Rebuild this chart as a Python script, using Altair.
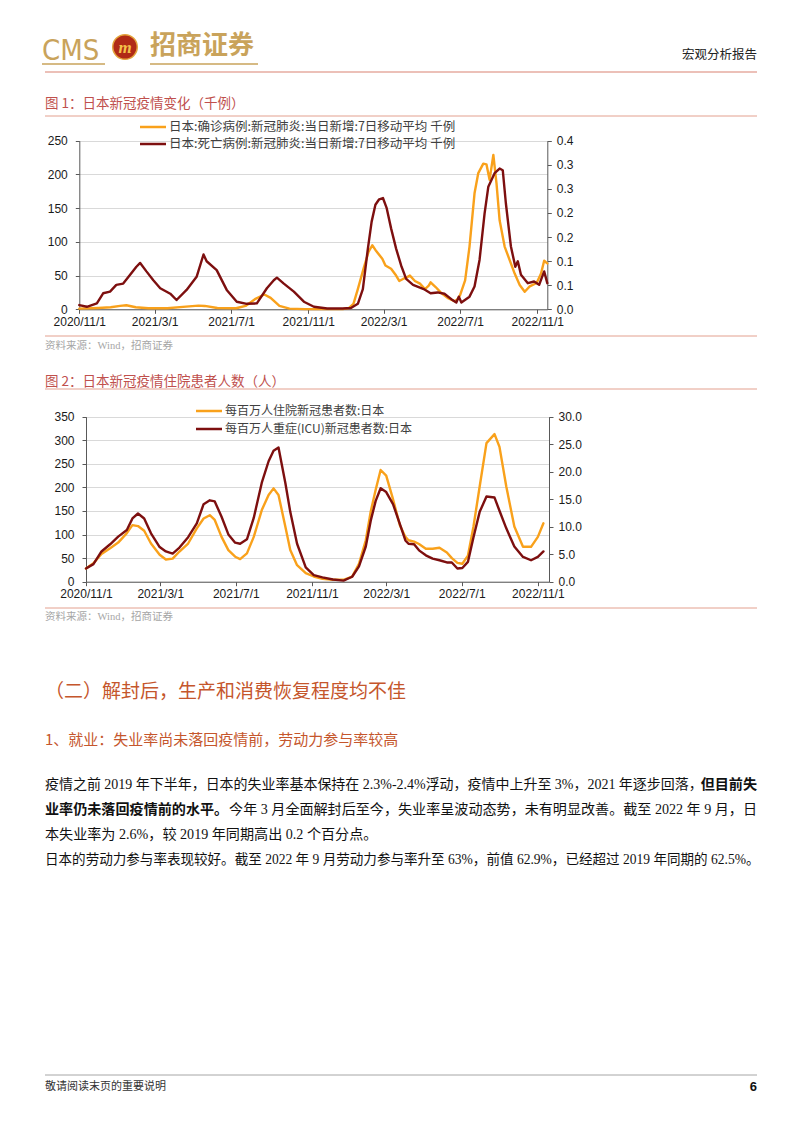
import altair as alt
import pandas as pd

# ---------------- data ----------------
c1_x_ticks = ["2020-11-01", "2021-03-01", "2021-07-01", "2021-11-01", "2022-03-01", "2022-07-01", "2022-11-01"]

conf_dates = ["2020-11-01", "2020-12-01", "2020-12-21", "2021-01-05", "2021-01-15", "2021-01-30", "2021-02-19",
              "2021-03-21", "2021-04-20", "2021-05-10", "2021-05-20", "2021-06-09", "2021-07-09", "2021-07-24",
              "2021-08-08", "2021-08-23", "2021-09-02", "2021-09-16", "2021-10-02", "2021-10-27", "2021-12-26",
              "2022-01-05", "2022-01-12", "2022-01-19", "2022-01-28", "2022-02-05", "2022-02-11", "2022-02-16",
              "2022-02-21", "2022-02-27", "2022-03-04", "2022-03-13", "2022-03-21", "2022-03-26", "2022-04-01",
              "2022-04-06", "2022-04-12", "2022-04-20", "2022-04-28", "2022-05-06", "2022-05-12", "2022-05-15",
              "2022-05-23", "2022-05-31", "2022-06-11", "2022-06-22", "2022-06-27", "2022-07-01", "2022-07-09",
              "2022-07-16", "2022-07-24", "2022-07-30", "2022-08-07", "2022-08-12", "2022-08-17", "2022-08-23",
              "2022-08-28", "2022-09-02", "2022-09-10", "2022-09-18", "2022-09-26", "2022-10-04", "2022-10-12",
              "2022-10-20", "2022-10-31", "2022-11-07", "2022-11-12", "2022-11-17"]
conf_vals = [1, 2, 3, 5, 6, 3, 1.5, 1.5, 4, 5.5,
             5, 2, 1.5, 5, 15, 22, 17, 5, 1, 0.3,
             0.3, 2, 8, 30, 60, 85, 95, 88, 82, 75,
             65, 60, 50, 42, 45, 47, 50, 42, 38, 30,
             35, 40, 33, 25, 17, 12, 15, 21, 43, 93,
             172, 202, 216, 215, 192, 229, 187, 132, 93, 73,
             53, 36, 26, 34, 39, 53, 72, 68]

death_dates = ["2020-11-01", "2020-11-13", "2020-11-29", "2020-12-09", "2020-12-20", "2020-12-30", "2021-01-10",
               "2021-01-21", "2021-01-31", "2021-02-06", "2021-02-16", "2021-02-27", "2021-03-10", "2021-03-26",
               "2021-04-05", "2021-04-21", "2021-05-07", "2021-05-18", "2021-05-23", "2021-06-08", "2021-06-24",
               "2021-07-10", "2021-07-26", "2021-08-11", "2021-08-27", "2021-09-07", "2021-09-12", "2021-09-23",
               "2021-10-09", "2021-10-25", "2021-11-10", "2021-12-01", "2021-12-26", "2022-01-08", "2022-01-19",
               "2022-01-27", "2022-02-04", "2022-02-10", "2022-02-16", "2022-02-22", "2022-02-28", "2022-03-06",
               "2022-03-13", "2022-03-21", "2022-03-29", "2022-04-06", "2022-04-17", "2022-05-04", "2022-05-15",
               "2022-05-26", "2022-06-06", "2022-06-17", "2022-06-25", "2022-06-29", "2022-07-03", "2022-07-16",
               "2022-07-24", "2022-08-01", "2022-08-09", "2022-08-15", "2022-08-25", "2022-09-02", "2022-09-07",
               "2022-09-12", "2022-09-20", "2022-09-27", "2022-10-01", "2022-10-06", "2022-10-17", "2022-10-27",
               "2022-11-04", "2022-11-12", "2022-11-17"]
death_vals = [0.010, 0.006, 0.014, 0.038, 0.042, 0.058, 0.061, 0.082, 0.101, 0.110,
              0.090, 0.069, 0.050, 0.037, 0.022, 0.046, 0.077, 0.130, 0.114, 0.093,
              0.046, 0.018, 0.013, 0.014, 0.050, 0.069, 0.075, 0.061, 0.042, 0.018,
              0.006, 0.002, 0.002, 0.003, 0.013, 0.048, 0.144, 0.208, 0.248, 0.261,
              0.264, 0.240, 0.192, 0.144, 0.104, 0.072, 0.058, 0.048, 0.038, 0.040,
              0.037, 0.024, 0.016, 0.030, 0.016, 0.030, 0.054, 0.117, 0.227, 0.291,
              0.323, 0.334, 0.330, 0.251, 0.149, 0.101, 0.114, 0.082, 0.062, 0.066,
              0.058, 0.090, 0.062]

c2_dates = ["2020-11-01", "2020-11-13", "2020-11-26", "2020-12-10", "2020-12-23", "2021-01-06", "2021-01-15",
            "2021-01-24", "2021-02-03", "2021-02-14", "2021-02-28", "2021-03-10", "2021-03-21", "2021-04-01",
            "2021-04-15", "2021-04-29", "2021-05-10", "2021-05-20", "2021-05-28", "2021-06-08", "2021-06-19",
            "2021-06-30", "2021-07-08", "2021-07-19", "2021-07-30", "2021-08-12", "2021-08-23", "2021-08-31",
            "2021-09-08", "2021-09-19", "2021-09-27", "2021-10-08", "2021-10-22", "2021-11-04", "2021-11-18",
            "2021-12-05", "2021-12-22", "2022-01-05", "2022-01-16", "2022-01-27", "2022-02-04", "2022-02-12",
            "2022-02-20", "2022-03-01", "2022-03-12", "2022-03-23", "2022-04-01", "2022-04-06", "2022-04-15",
            "2022-04-23", "2022-05-04", "2022-05-15", "2022-05-26", "2022-06-07", "2022-06-15", "2022-06-24",
            "2022-07-02", "2022-07-11", "2022-07-20", "2022-07-30", "2022-08-10", "2022-08-23", "2022-08-31",
            "2022-09-11", "2022-09-24", "2022-10-08", "2022-10-21", "2022-11-01", "2022-11-10"]
hosp_vals = [28, 39, 59, 71, 83, 103, 120, 118, 108, 81,
             57, 47, 49, 64, 81, 113, 134, 141, 131, 95,
             67, 53, 48, 60, 95, 152, 184, 198, 184, 117,
             67, 35, 18, 11, 6, 4, 4, 11, 38, 88,
             149, 195, 237, 225, 175, 120, 95, 88, 85, 80,
             70, 70, 72, 62, 50, 40, 38, 55, 117, 202,
             294, 313, 286, 202, 117, 74, 74, 95, 124]
icu_vals = [2.4, 3.2, 5.5, 6.8, 8.2, 9.4, 11.5, 12.4, 11.5, 8.8,
            6.3, 5.5, 5.1, 6.2, 8.1, 10.6, 14.1, 14.8, 14.6, 11.8,
            8.6, 7.1, 6.9, 7.7, 11.6, 18.0, 21.9, 23.8, 24.4, 18.0,
            12.7, 6.9, 2.6, 1.2, 0.8, 0.4, 0.2, 0.9, 2.8, 6.4,
            11.1, 14.7, 17.0, 16.3, 14.1, 10.5, 7.5, 6.9, 6.8, 5.7,
            4.8, 4.2, 3.9, 3.5, 3.5, 2.4, 2.5, 3.6, 8.1, 12.7,
            15.5, 15.3, 12.9, 9.7, 6.4, 4.5, 3.9, 4.5, 5.5]

c1_left_ticks = [0, 50, 100, 150, 200, 250]
c1_right_ticks = [0, 0.4 / 7, 0.8 / 7, 1.2 / 7, 1.6 / 7, 2.0 / 7, 2.4 / 7, 0.4]
c2_left_ticks = [0, 50, 100, 150, 200, 250, 300, 350]
c2_right_ticks = [0, 5, 10, 15, 20, 25, 30]

leg1 = ["日本:确诊病例:新冠肺炎:当日新增:7日移动平均 千例", "日本:死亡病例:新冠肺炎:当日新增:7日移动平均 千例"]
leg2 = ["每百万人住院新冠患者数:日本", "每百万人重症(ICU)新冠患者数:日本"]

# ---------------- style ----------------
W, H = 786, 1117
ORANGE = "#F9A11B"
DARKRED = "#7D0F0F"
GOLD = "#C9A35B"
TITLE_C = "#C0504D"
HEAD_C = "#C5562C"
RULE_C = "#E3A08F"
AXIS_C = "#595959"
GRID_C = "#D9D9D9"
LAB_C = "#1A1A1A"
AX_FONT = "Liberation Sans, Arial, sans-serif"
CJK = "Noto Sans CJK SC"
MIX = "Liberation Serif, Noto Sans CJK SC"
BODY = 14.1

ONE = pd.DataFrame({"k": [0]})


def d(s):
    y, m, dd = map(int, s.split("-"))
    return alt.DateTime(year=y, month=m, date=dd, utc=True)


def txt(x, y, s, size, color, font=CJK, weight="normal", align="left", baseline="middle", style="normal"):
    return alt.Chart(ONE).mark_text(align=align, baseline=baseline, fontSize=size, font=font,
                                    fontWeight=weight, fontStyle=style, color=color).encode(
        x=alt.value(x), y=alt.value(y), text=alt.value(s))


def hline(x1, x2, y, color, w=1.0):
    return alt.Chart(ONE).mark_rule(color=color, strokeWidth=w).encode(
        x=alt.value(x1), x2=alt.value(x2), y=alt.value(y))


def xaxis(offset):
    return alt.Axis(orient="bottom", offset=offset, values=[d(t) for t in c1_x_ticks],
                    labelExpr="utcFormat(datum.value, '%Y/%-m/%-d')", labelFont=AX_FONT, labelFontSize=12,
                    labelColor=LAB_C, domainColor=AXIS_C, tickColor=AXIS_C, tickSize=4, labelPadding=3,
                    grid=False, labelOverlap=False, labelFlush=False)


def yaxis(orient, offset, vals, pad, grid, fmt=None):
    kw = dict(orient=orient, offset=offset, values=vals, grid=grid, labelFont=AX_FONT, labelFontSize=12,
              labelColor=LAB_C, domainColor=AXIS_C, tickColor=AXIS_C, tickSize=4, labelPadding=pad,
              labelOverlap=False, labelFlush=False)
    if grid:
        kw.update(gridColor=GRID_C, gridWidth=1)
    if fmt:
        kw.update(format=fmt)
    return alt.Axis(**kw)


def series(dates, vals, color, xdom, xrng, ydom, yrng, x_axis, y_axis):
    df = pd.DataFrame({"date": dates, "v": vals})
    return alt.Chart(df).mark_line(color=color, strokeWidth=2.4, strokeJoin="round", strokeCap="round").encode(
        x=alt.X("date:T", title=None, axis=x_axis,
                scale=alt.Scale(type="utc", domain=[d(xdom[0]), d(xdom[1])], range=xrng, nice=False)),
        y=alt.Y("v:Q", title=None, axis=y_axis,
                scale=alt.Scale(domain=ydom, range=yrng, nice=False, zero=False)),
    )


# plot geometry (chart coords = page - 8)
X1 = [71.3, 539.3]
Y1 = [301.3, 132.7]
X2 = [78.0, 541.0]
Y2 = [573.7, 408.7]

c1a = series(conf_dates, conf_vals, ORANGE, ["2020-11-01", "2022-11-17"], X1, [0, 250], Y1,
             xaxis(Y1[0] - H), yaxis("left", -X1[0], c1_left_ticks, 8, True))
c1b = series(death_dates, death_vals, DARKRED, ["2020-11-01", "2022-11-17"], X1, [0, 0.4], Y1,
             None, yaxis("right", X1[1] - W, c1_right_ticks, 5, False, ".1f"))
c2a = series(c2_dates, hosp_vals, ORANGE, ["2020-11-01", "2022-11-19"], X2, [0, 350], Y2,
             xaxis(Y2[0] - H), yaxis("left", -X2[0], c2_left_ticks, 8, True))
c2b = series(c2_dates, icu_vals, DARKRED, ["2020-11-01", "2022-11-19"], X2, [0, 30], Y2,
             None, yaxis("right", X2[1] - W, c2_right_ticks, 5, False, ".1f"))

logo = alt.Chart(ONE).mark_point(shape="circle", filled=True, size=600, fill="#B02A16", stroke="#E3A33B",
                                 strokeWidth=1.5, opacity=1).encode(x=alt.value(117), y=alt.value(39))

deco = [
    # header
    txt(34, 52, "CMS", 29, GOLD, font="DejaVu Sans Condensed, Liberation Sans", baseline="alphabetic"),
    logo,
    txt(117, 40, "m", 17, "#F4C24A", font="Liberation Serif", weight="bold", align="center", style="italic"),
    txt(142, 38, "招商证券", 26, GOLD, weight="bold"),
    hline(34, 97, 56, GOLD, 1.5),
    hline(142, 250, 56, GOLD, 1.5),
    txt(749, 47, "宏观分析报告", 12.5, "#222222", align="right"),
    hline(37, 749, 64, "#D98272", 1.2),
    # figure 1
    txt(37, 96, "图 1：日本新冠疫情变化（千例）", 13.5, TITLE_C),
    hline(37, 749, 108, RULE_C, 1),
    hline(132, 158, 119, ORANGE, 2.5),
    txt(161, 119, leg1[0], 12.5, "#404040"),
    hline(132, 158, 136, DARKRED, 2.5),
    txt(161, 136, leg1[1], 12.5, "#404040"),
    hline(37, 749, 328, RULE_C, 1),
    txt(37, 338, "资料来源：Wind，招商证券", 10.5, "#A6A6A6", font=MIX),
    # figure 2
    txt(37, 374, "图 2：日本新冠疫情住院患者人数（人）", 13.5, TITLE_C),
    hline(37, 749, 381, RULE_C, 1),
    hline(188, 214, 403, ORANGE, 2.5),
    txt(217, 403, leg2[0], 12, "#404040"),
    hline(188, 214, 421, DARKRED, 2.5),
    txt(217, 421, leg2[1], 12, "#404040"),
    hline(37, 749, 600, RULE_C, 1),
    txt(37, 609, "资料来源：Wind，招商证券", 10.5, "#A6A6A6", font=MIX),
    # text section
    txt(37, 684, "（二）解封后，生产和消费恢复程度均不佳", 19, HEAD_C),
    txt(37, 732, "1、就业：失业率尚未落回疫情前，劳动力参与率较高", 15, HEAD_C),
    txt(37, 777, "疫情之前 2019 年下半年，日本的失业率基本保持在 2.3%-2.4%浮动，疫情中上升至 3%，2021 年逐步回落，",
        13.98, "#111111", font=MIX),
    txt(749, 777, "但目前失", BODY, "#111111", font=MIX, weight="bold", align="right"),
    txt(37, 802, "业率仍未落回疫情前的水平。", BODY, "#111111", font=MIX, weight="bold"),
    txt(749, 802, "今年 3 月全面解封后至今，失业率呈波动态势，未有明显改善。截至 2022 年 9 月，日",
        14.08, "#111111", font=MIX, align="right"),
    txt(37, 827, "本失业率为 2.6%，较 2019 年同期高出 0.2 个百分点。", BODY, "#111111", font=MIX),
    txt(37, 852, "日本的劳动力参与率表现较好。截至 2022 年 9 月劳动力参与率升至 63%，前值 62.9%，已经超过 2019 年同期的 62.5%。",
        13.55, "#111111", font=MIX),
    # footer
    hline(37, 749, 1067, "#A6A6A6", 1),
    txt(37, 1079, "敬请阅读末页的重要说明", 11, "#333333"),
    txt(749, 1079, "6", 13, "#111111", font=AX_FONT, weight="bold", align="right"),
]

chart = alt.layer(*deco, c1a, c1b, c2a, c2b).resolve_scale(
    x="independent", y="independent"
).properties(
    width=W, height=H, autosize=alt.AutoSizeParams(type="none"), padding=0, background="white"
).configure_view(stroke=None)

chart.save("out.html", embed_options={"renderer": "svg", "actions": False})
